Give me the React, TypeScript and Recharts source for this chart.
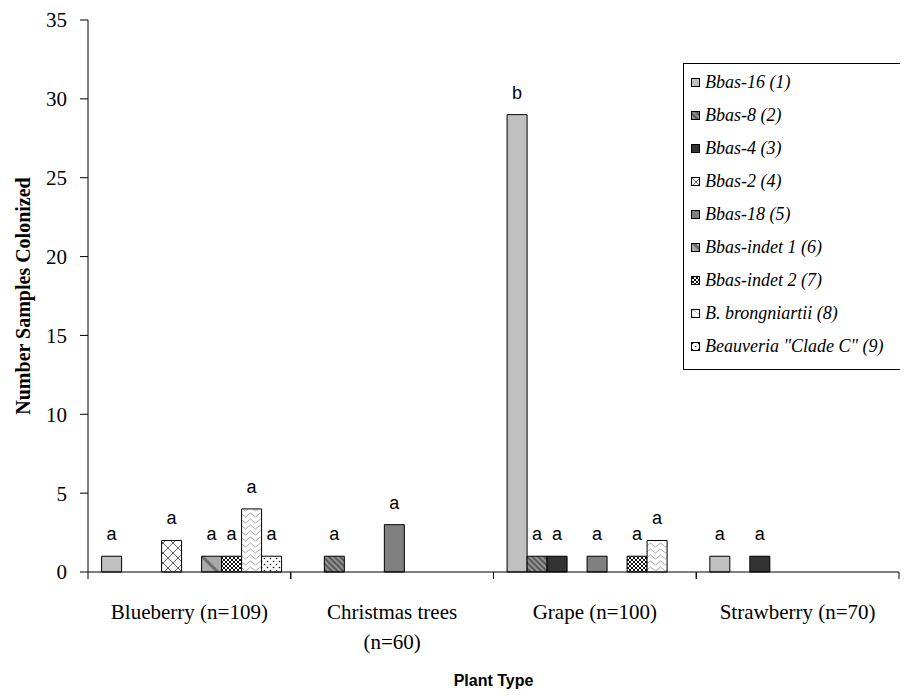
import React from 'react';
import { BarChart, Bar, XAxis, YAxis, LabelList, Label } from 'recharts';

const categories = ['Blueberry (n=109)', 'Christmas trees\n(n=60)', 'Grape (n=100)', 'Strawberry (n=70)'];

const seriesNames = [
  'Bbas-16 (1)',
  'Bbas-8 (2)',
  'Bbas-4 (3)',
  'Bbas-2 (4)',
  'Bbas-18 (5)',
  'Bbas-indet 1 (6)',
  'Bbas-indet 2 (7)',
  'B. brongniartii (8)',
  'Beauveria "Clade C" (9)',
];

// one array per isolate, values per plant type
const bbas16 = [1, 0, 29, 1];
const bbas8 = [0, 1, 1, 0];
const bbas4 = [0, 0, 1, 1];
const bbas2 = [2, 0, 0, 0];
const bbas18 = [0, 3, 1, 0];
const indet1 = [1, 0, 0, 0];
const indet2 = [1, 0, 1, 0];
const brongniartii = [4, 0, 2, 0];
const cladeC = [1, 0, 0, 0];

// significance letters above bars
const letters16 = ['a', '', 'b', 'a'];
const letters8 = ['', 'a', 'a', ''];
const letters4 = ['', '', 'a', 'a'];
const letters2 = ['a', '', '', ''];
const letters18 = ['', 'a', 'a', ''];
const lettersIndet1 = ['a', '', '', ''];
const lettersIndet2 = ['a', '', 'a', ''];
const lettersBrong = ['a', '', 'a', ''];
const lettersCladeC = ['a', '', '', ''];

const yTicks = [0, 5, 10, 15, 20, 25, 30, 35];

const values = [bbas16, bbas8, bbas4, bbas2, bbas18, indet1, indet2, brongniartii, cladeC];
const letters = [letters16, letters8, letters4, letters2, letters18, lettersIndet1, lettersIndet2, lettersBrong, lettersCladeC];

const data = categories.map((name, c) => {
  const row: Record<string, string | number> = { name };
  values.forEach((v, i) => {
    row[`s${i}`] = v[c];
    row[`l${i}`] = letters[i][c];
  });
  return row;
});

const W = 900;
const H = 688;
const M = { top: 12, right: 9, left: 0, bottom: 0 };
const Y_W = 80;
const X_H = 124;
const HALF_BAND = (W - M.right - Y_W) / categories.length / 2;

const serif = '"Liberation Serif", "Times New Roman", serif';
const sans = '"Liberation Sans", Arial, sans-serif';

function patternDef(i: number, id: string) {
  switch (i) {
    case 1:
      return (
        <pattern id={id} key={id} width={4} height={4} patternUnits="userSpaceOnUse" patternTransform="rotate(-45)">
          <rect width={4} height={4} fill="#5a5a5a" />
          <rect width={1.6} height={4} fill="#a0a0a0" />
        </pattern>
      );
    case 3:
      return (
        <pattern id={id} key={id} width={10} height={10} patternUnits="userSpaceOnUse">
          <rect width={10} height={10} fill="#fff" />
          <path d="M0 0 L10 10 M10 0 L0 10" stroke="#555" strokeWidth={0.9} />
        </pattern>
      );
    case 5:
      return (
        <pattern id={id} key={id} width={14} height={14} patternUnits="userSpaceOnUse" patternTransform="rotate(-45)">
          <rect width={14} height={14} fill="#a9a9a9" />
          <rect width={3} height={14} fill="#6c6c6c" />
        </pattern>
      );
    case 6:
      return (
        <pattern id={id} key={id} width={4} height={4} patternUnits="userSpaceOnUse">
          <rect width={4} height={4} fill="#fff" />
          <path d="M0 0 L4 4 M4 0 L0 4" stroke="#111" strokeWidth={1} />
        </pattern>
      );
    case 7:
      return (
        <pattern id={id} key={id} width={10} height={6} patternUnits="userSpaceOnUse">
          <rect width={10} height={6} fill="#fff" />
          <path d="M0 3 L2.5 1 L5 3 L7.5 5 L10 3" fill="none" stroke="#aaa" strokeWidth={1} />
        </pattern>
      );
    case 8:
      return (
        <pattern id={id} key={id} width={6} height={6} patternUnits="userSpaceOnUse">
          <rect width={6} height={6} fill="#fff" />
          <circle cx={1.5} cy={1.5} r={0.8} fill="#000" />
          <circle cx={4.5} cy={4.5} r={0.8} fill="#000" />
        </pattern>
      );
    default:
      return null;
  }
}

const solidFills: Record<number, string> = { 0: '#c0c0c0', 2: '#333333', 4: '#808080' };

function fillFor(i: number, prefix: string) {
  return solidFills[i] ?? `url(#${prefix}${i})`;
}

const CategoryTick = (props: any) => {
  const { x, y, payload } = props;
  const lines = String(payload.value).split('\n');
  return (
    <g>
      <line x1={x - HALF_BAND} x2={x - HALF_BAND} y1={y} y2={y + 7} stroke="#000" />
      <line x1={x + HALF_BAND} x2={x + HALF_BAND} y1={y} y2={y + 7} stroke="#000" />
      <text x={x} y={y + 47} textAnchor="middle" fontFamily={serif} fontSize={21} fill="#000">
        {lines.map((t, k) => (
          <tspan key={k} x={x} dy={k === 0 ? 0 : 30}>
            {t}
          </tspan>
        ))}
      </text>
    </g>
  );
};

const LetterLabel = (props: any) => {
  const { x, y, width, value } = props;
  if (!value) return null;
  return (
    <text x={x + width / 2} y={y - 16} textAnchor="middle" fontFamily={sans} fontSize={18} fill="#000">
      {value}
    </text>
  );
};

const Swatch = ({ i }: { i: number }) => (
  <svg width={9} height={9} style={{ display: 'block' }}>
    <defs>{patternDef(i, `lg${i}`)}</defs>
    <rect x={0.5} y={0.5} width={8} height={8} fill={fillFor(i, 'lg')} stroke="#000" strokeWidth={1} />
  </svg>
);

export default function App() {
  return (
    <div style={{ position: 'relative', width: W, height: H }}>
      <BarChart width={W} height={H} data={data} margin={M} barCategoryGap="6.7%" barGap={0}>
        <defs>{seriesNames.map((_, i) => patternDef(i, `bp${i}`))}</defs>
        <XAxis
          dataKey="name"
          height={X_H}
          interval={0}
          tickLine={false}
          tickSize={0}
          tickMargin={0}
          axisLine={{ stroke: '#000' }}
          tick={<CategoryTick />}
        >
          <Label
            content={({ viewBox }: any) => (
              <text
                x={viewBox.x + viewBox.width / 2}
                y={viewBox.y + 114}
                textAnchor="middle"
                fontFamily={sans}
                fontWeight="bold"
                fontSize={16}
                fill="#000"
              >
                Plant Type
              </text>
            )}
          />
        </XAxis>
        <YAxis
          width={Y_W}
          domain={[0, 35]}
          ticks={yTicks}
          interval={0}
          tickSize={8}
          tickMargin={13}
          axisLine={{ stroke: '#000' }}
          tickLine={{ stroke: '#000' }}
          tick={{ fontFamily: serif, fontSize: 21, fill: '#000' }}
        >
          <Label
            content={({ viewBox }: any) => {
              const cx = 15;
              const cy = viewBox.y + viewBox.height / 2;
              return (
                <text
                  x={cx}
                  y={cy}
                  transform={`rotate(-90 ${cx} ${cy})`}
                  textAnchor="middle"
                  dominantBaseline="central"
                  fontFamily={serif}
                  fontWeight="bold"
                  fontSize={20}
                  fill="#000"
                >
                  Number Samples Colonized
                </text>
              );
            }}
          />
        </YAxis>
        {seriesNames.map((n, i) => (
          <Bar
            key={n}
            dataKey={`s${i}`}
            name={n}
            fill={fillFor(i, 'bp')}
            stroke="#000"
            strokeWidth={1}
            isAnimationActive={false}
          >
            <LabelList dataKey={`l${i}`} content={<LetterLabel />} />
          </Bar>
        ))}
      </BarChart>
      <div
        style={{
          position: 'absolute',
          left: 675,
          top: 55,
          width: 222,
          border: '1px solid #000',
          background: '#fff',
          padding: '2px 0 6px 0',
          boxSizing: 'border-box',
        }}
      >
        {seriesNames.map((n, i) => (
          <div key={n} style={{ display: 'flex', alignItems: 'center', height: 33 }}>
            <div style={{ width: 7 }} />
            <Swatch i={i} />
            <span
              style={{
                marginLeft: 5,
                fontFamily: serif,
                fontStyle: 'italic',
                fontSize: 18,
                whiteSpace: 'nowrap',
                color: '#000',
              }}
            >
              {n}
            </span>
          </div>
        ))}
      </div>
    </div>
  );
}
